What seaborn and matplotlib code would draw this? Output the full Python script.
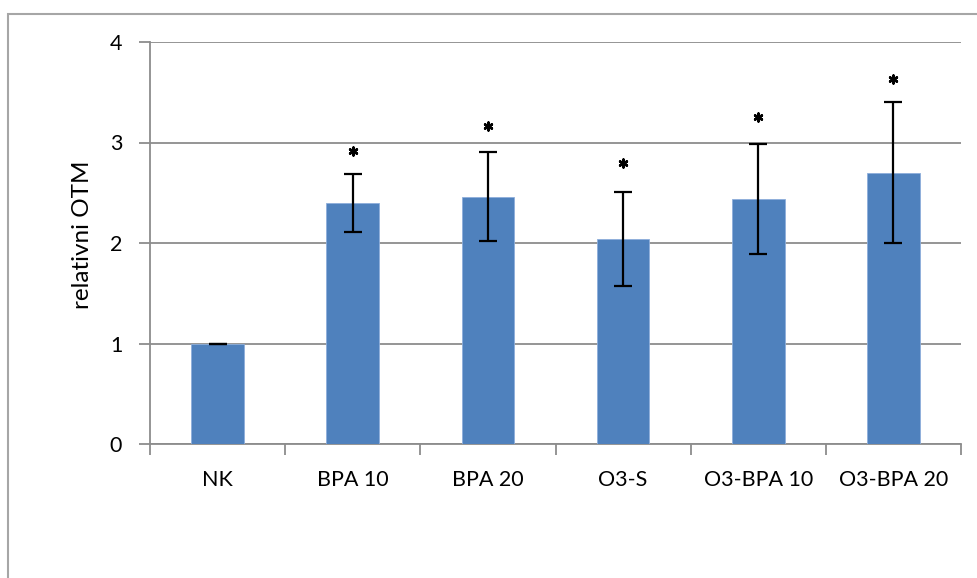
import numpy as np
import pandas as pd
import matplotlib
matplotlib.use("Agg")
import matplotlib.pyplot as plt
from matplotlib.patches import Rectangle
from matplotlib.ticker import FixedLocator
import seaborn as sns

# Relative OTM per treatment group (mean and SD)
categories = ["NK", "BPA 10", "BPA 20", "O3-S", "O3-BPA 10", "O3-BPA 20"]
means = [1.0, 2.40, 2.46, 2.04, 2.44, 2.70]
sd = [0.0, 0.29, 0.445, 0.47, 0.545, 0.70]
# groups marked significant and where the asterisk sits
star_y = [np.nan, 2.92, 3.16, 2.80, 3.25, 3.63]
y_ticks = [0, 1, 2, 3, 4]

sns.set_theme(style="white")
plt.rcParams["font.family"] = ["Lato", "DejaVu Sans"]

df = pd.DataFrame({"group": categories, "otm": means})

fig = plt.figure(figsize=(9.77, 5.78), dpi=100)
ax = fig.add_axes([150 / 977, 1 - 444 / 578, 811 / 977, 402 / 578])

sns.barplot(data=df, x="group", y="otm", color="#4F81BD", saturation=1,
            width=0.39, errorbar=None, edgecolor="#8DAEDB", linewidth=0.6,
            ax=ax, zorder=3)

pos = np.arange(len(categories))
ax.errorbar(pos, means, yerr=sd, fmt="none", ecolor="black",
            elinewidth=1.6, capsize=6.5, capthick=1.6, zorder=4)

# significance asterisks
ax.scatter(pos, star_y, marker=(6, 2, 0), s=32, linewidths=1.8,
           color="black", zorder=5)

ax.set_xlim(-0.5, len(categories) - 0.5)
ax.set_ylim(0, 4)
ax.set_yticks(y_ticks)
ax.set_yticklabels([str(t) for t in y_ticks])
ax.yaxis.grid(True, color="#8c8c8c", linewidth=1.3, zorder=0)
ax.xaxis.grid(False)
ax.set_axisbelow(True)

for s in ["top", "right"]:
    ax.spines[s].set_visible(False)
for s in ["left", "bottom"]:
    ax.spines[s].set_color("#8c8c8c")
    ax.spines[s].set_linewidth(1.3)

# category-boundary tick marks on the x axis
ax.xaxis.set_minor_locator(FixedLocator(np.arange(-0.5, len(categories), 1.0)))
ax.tick_params(axis="x", which="minor", direction="out", length=8,
               width=1.3, color="#8c8c8c", bottom=True)
ax.tick_params(axis="x", which="major", length=0, pad=19,
               labelsize=15.5, labelcolor="black")
ax.tick_params(axis="y", direction="out", length=8, width=1.3,
               color="#8c8c8c", left=True, pad=12, labelsize=15.5,
               labelcolor="black")

ax.set_xlabel("")
ax.set_ylabel("relativni OTM", fontsize=17.5, color="black")
ax.yaxis.set_label_coords(-0.07, 0.52)

# outer chart-area border
fig.patches.append(Rectangle((8 / 977, -0.2), 1.2, 1.2 - 14 / 578,
                             transform=fig.transFigure, fill=False,
                             edgecolor="#a6a6a6", linewidth=1.5,
                             clip_on=False))

fig.savefig("out.png", dpi=100, facecolor="white")
